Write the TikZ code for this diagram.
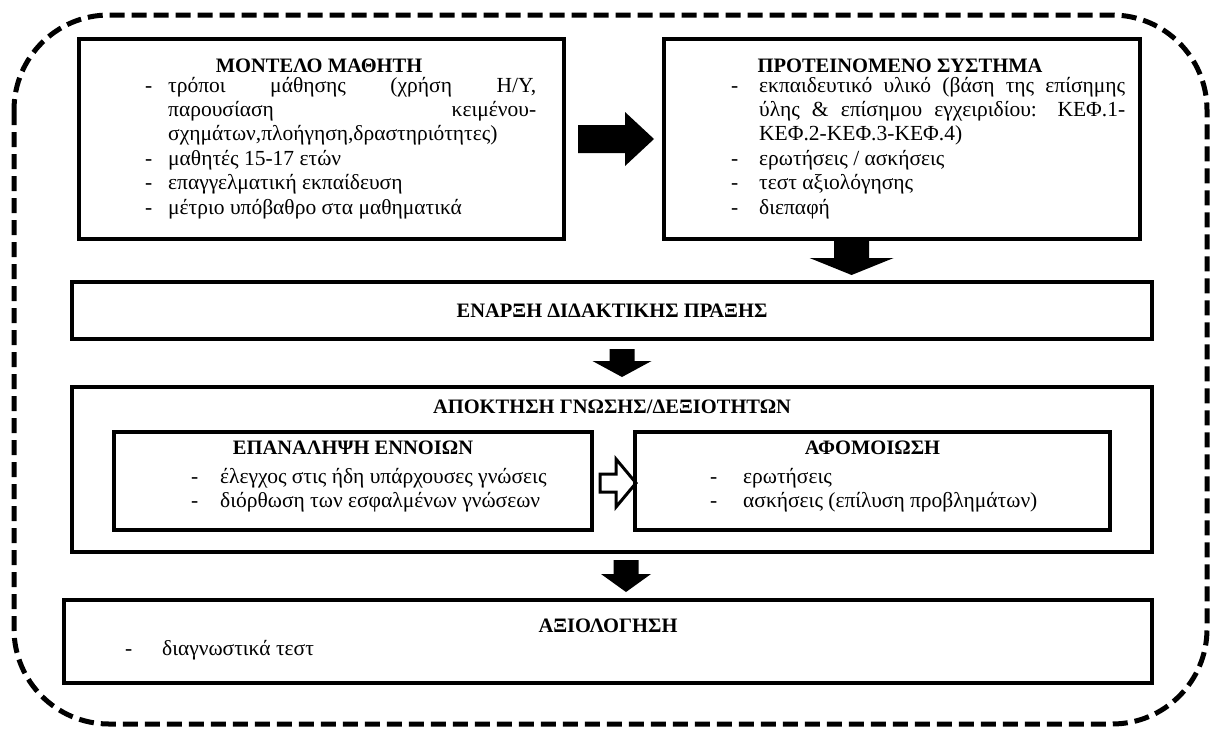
\documentclass[tikz,border=0pt]{standalone}
\usepackage{fontspec}
\setmainfont{Liberation Serif}
\usetikzlibrary{calc}

% list helpers: dash in a fixed column, then the item text
\newcommand\itm[2]{\makebox[#1][l]{-}#2}
\newcommand\cnt[2]{\hspace*{#1}#2}
\newcommand\jst[2]{\makebox[#1][s]{#2}}
% solid block arrow pointing down, drawn from its top centre
\newcommand\blockdown[5]{\fill (#1) ++(-#2/2,0) -- ++(#2,0) -- ++(0,#3) -- ++(#4/2-#2/2,0) -- ++(-#4/2,#5) -- ++(-#4/2,-#5) -- ++(#4/2-#2/2,0) -- cycle;}

\begin{document}
\begin{tikzpicture}[x=1pt,y=-1pt,
  frame/.style={draw, line width=4pt, inner sep=0pt, anchor=north west},
  ttl/.style={font=\fontsize{20.5}{24.4}\selectfont\bfseries, inner sep=0pt, anchor=base},
  lst/.style={font=\fontsize{21.5}{24.4}\selectfont, inner sep=0pt, anchor=base west},
]
\useasboundingbox (0,0) rectangle (1213,729);

% dashed outer boundary
\draw[line width=5pt, dash pattern=on 15pt off 7pt, rounded corners=95pt] (14,15) rectangle (1207,724);

% boxes
\node[frame, minimum width=485pt, minimum height=200pt] (m) at (77,37) {};
\node[frame, minimum width=476pt, minimum height=200pt] (p) at (662,37) {};
\node[frame, minimum width=1080pt, minimum height=57pt] (e) at (70,280) {};
\node[frame, minimum width=1080pt, minimum height=165pt] (a) at (70,385) {};
\node[frame, minimum width=478pt, minimum height=98pt] (r) at (112,430) {};
\node[frame, minimum width=475pt, minimum height=98pt] (f) at (633,430) {};
\node[frame, minimum width=1088pt, minimum height=83pt] (x) at (62,598) {};

% student model
\node[ttl] (mt) at (319,72) {ΜΟΝΤΕΛΟ ΜΑΘΗΤΗ};
\node[lst] (ml) at (145,92) {\parbox[t]{420pt}{%
  \itm{23pt}{\jst{368pt}{τρόποι μάθησης (χρήση Η/Υ,}}\\
  \cnt{23pt}{\jst{368pt}{παρουσίαση κειμένου-}}\\
  \cnt{23pt}{σχημάτων,πλοήγηση,δραστηριότητες)}\\
  \itm{23pt}{μαθητές 15-17 ετών}\\
  \itm{23pt}{επαγγελματική εκπαίδευση}\\
  \itm{23pt}{μέτριο υπόβαθρο στα μαθηματικά}}};

% proposed system
\node[ttl] (pt) at (900,72) {ΠΡΟΤΕΙΝΟΜΕΝΟ ΣΥΣΤΗΜΑ};
\node[lst] (pl) at (731,92) {\parbox[t]{420pt}{%
  \itm{28pt}{\jst{366pt}{εκπαιδευτικό υλικό (βάση της επίσημης}}\\
  \cnt{28pt}{\jst{366pt}{ύλης \& επίσημου εγχειριδίου: ΚΕΦ.1-}}\\
  \cnt{28pt}{ΚΕΦ.2-ΚΕΦ.3-ΚΕΦ.4)}\\
  \itm{28pt}{ερωτήσεις / ασκήσεις}\\
  \itm{28pt}{τεστ αξιολόγησης}\\
  \itm{28pt}{διεπαφή}}};

% start of teaching
\node[ttl] (et) at ($(e.center)+(0,7)$) {ΕΝΑΡΞΗ ΔΙΔΑΚΤΙΚΗΣ ΠΡΑΞΗΣ};

% knowledge / skills acquisition
\node[ttl] (at) at ($(a.north)+(0,28)$) {ΑΠΟΚΤΗΣΗ ΓΝΩΣΗΣ/ΔΕΞΙΟΤΗΤΩΝ};
\node[ttl] (rt) at ($(r.north)+(0,24)$) {ΕΠΑΝΑΛΗΨΗ ΕΝΝΟΙΩΝ};
\node[lst] (rl) at (191,483) {\parbox[t]{420pt}{%
  \itm{29pt}{έλεγχος στις ήδη υπάρχουσες γνώσεις}\\
  \itm{29pt}{διόρθωση των εσφαλμένων γνώσεων}}};
\node[ttl] (ft) at ($(f.north)+(0,24)$) {ΑΦΟΜΟΙΩΣΗ};
\node[lst] (fl) at (710,483) {\parbox[t]{420pt}{%
  \itm{33pt}{ερωτήσεις}\\
  \itm{33pt}{ασκήσεις (επίλυση προβλημάτων)}}};

% evaluation
\node[ttl] (xt) at ($(x.north)+(0,34)$) {ΑΞΙΟΛΟΓΗΣΗ};
\node[lst] (xl) at (125,655) {\parbox[t]{420pt}{\itm{37pt}{διαγνωστικά τεστ}}};

% block arrows between the stages
\coordinate (ra) at ($(m.east)!0.5!(p.west)$);
\fill ($(ra)+(-36,-14)$) -- ($(ra)+(11,-14)$) -- ($(ra)+(11,-27)$) -- ($(ra)+(40,0)$)
  -- ($(ra)+(11,27)$) -- ($(ra)+(11,14)$) -- ($(ra)+(-36,14)$) -- cycle;

\coordinate (d1) at ($(p.south west)!0.395!(p.south east)$);
\blockdown{d1}{35}{17}{84}{17}
\coordinate (d2) at ($(e.south)+(10,8)$);
\blockdown{d2}{25}{12}{59}{16}
\coordinate (d3) at ($(a.south)+(14,6)$);
\blockdown{d3}{25}{14}{50}{18}

% hollow arrow between the two inner boxes
\draw[line width=3pt, line join=miter]
  ($(r.east)+(6,-7)$) -- ($(r.east)+(22,-7)$) -- ($(r.east)+(22,-22)$) -- ($(r.east)+(42,2)$)
  -- ($(r.east)+(22,26)$) -- ($(r.east)+(22,11)$) -- ($(r.east)+(6,11)$) -- cycle;
\end{tikzpicture}
\end{document}
